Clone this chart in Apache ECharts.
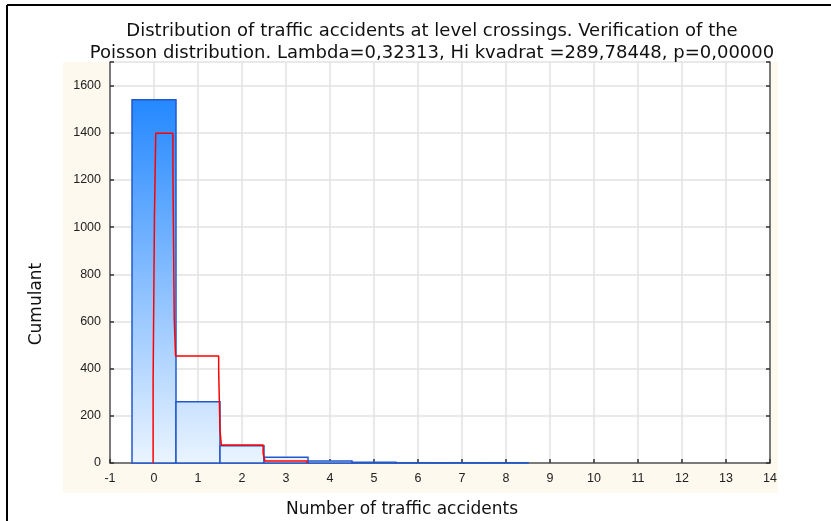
<!DOCTYPE html>
<html>
<head>
<meta charset="utf-8">
<script src="https://cdn.jsdelivr.net/npm/echarts@6/dist/echarts.min.js"></script>
<style>
  html, body { margin: 0; padding: 0; background: #fff; }
  #chart { width: 831px; height: 521px; }
</style>
</head>
<body>
<div id="chart"></div>
<script>
// observed histogram: bin centres and counts
const binCenters = [0, 1, 2, 3, 4, 5, 6, 7, 8];
const binCounts = [1540, 260, 73, 24, 8, 3, 1, 1, 1];
// expected (Poisson) step curve
const expectedX = [-0.02, -0.02, 0.01, 0.01, 0.04, 0.04, 0.43, 0.43, 0.46, 0.46, 0.49, 0.49, 1.47, 1.47, 1.5, 1.5, 1.53, 1.53, 2.48, 2.48, 2.52, 2.52, 3.48, 3.48];
const expectedY = [0, 350, 350, 1045, 1045, 1398, 1398, 1243, 1243, 611, 611, 454, 454, 392, 392, 140, 140, 76, 76, 41, 41, 9, 9, 0];
const xTicks = { min: -1, max: 14, step: 1 };
const yTicks = { min: 0, max: 1700, step: 200 };

const titleLines = [
  'Distribution of traffic accidents at level crossings. Verification of the',
  'Poisson distribution. Lambda=0,32313, Hi kvadrat =289,78448, p=0,00000'
];
const xName = 'Number of traffic accidents';
const yName = 'Cumulant';

const chart = echarts.init(document.getElementById('chart'));
const gothic = "'Century Gothic', 'DejaVu Sans', sans-serif";
const tickFont = "'Liberation Sans', Arial, sans-serif";

// blue fill fading downwards, shared by all bars
const barFill = new echarts.graphic.LinearGradient(0, 100, 0, 463, [
  { offset: 0, color: '#2488FF' },
  { offset: 1, color: '#EAF4FF' }
], true);

const axisCommon = {
  axisLine: { show: true, onZero: false, lineStyle: { color: '#555', width: 1.5 } },
  axisTick: { show: true, inside: true, length: 4, lineStyle: { color: '#333', width: 1.5 } },
  splitLine: { show: true, lineStyle: { color: '#E2E2E2', width: 1.5 } }
};

const option = {
  backgroundColor: '#fff',
  animation: false,
  title: {
    text: titleLines.join('\n'),
    left: 427,
    textAlign: 'center',
    top: 15,
    textStyle: { fontFamily: gothic, fontSize: 18, fontWeight: 'normal', color: '#111', lineHeight: 22 }
  },
  graphic: [
    { type: 'rect', z: -100, shape: { x: 63, y: 62, width: 715, height: 431 }, style: { fill: '#FEF9EE' } },
    { type: 'line', shape: { x1: 7, y1: 5, x2: 831, y2: 5 }, style: { stroke: '#000', lineWidth: 2 } },
    { type: 'line', shape: { x1: 7, y1: 5, x2: 7, y2: 521 }, style: { stroke: '#000', lineWidth: 2 } },
    { type: 'text', x: 37, y: 304, rotation: Math.PI / 2,
      style: { text: yName, font: '17px ' + gothic, fill: '#111', align: 'center', verticalAlign: 'middle' } },
    { type: 'text', x: 402, y: 510,
      style: { text: xName, font: '17px ' + gothic, fill: '#111', align: 'center', verticalAlign: 'middle' } }
  ],
  grid: { left: 110, right: 61, top: 62, bottom: 58, show: true, backgroundColor: '#fff', borderWidth: 0 },
  xAxis: Object.assign({
    type: 'value', min: xTicks.min, max: xTicks.max, interval: xTicks.step,
    axisLabel: { color: '#222', fontFamily: tickFont, fontSize: 12.5, margin: 9 }
  }, axisCommon),
  yAxis: [
    Object.assign({
      type: 'value', min: yTicks.min, max: yTicks.max, interval: yTicks.step,
      axisLabel: { color: '#222', fontFamily: tickFont, fontSize: 12.5, margin: 9,
        formatter: v => (v % yTicks.step === 0 ? String(v) : '') }
    }, axisCommon),
    Object.assign({}, axisCommon, {
      type: 'value', position: 'right', min: yTicks.min, max: yTicks.max, interval: yTicks.step,
      axisLabel: { show: false }, splitLine: { show: false }
    })
  ],
  series: [
    {
      type: 'custom',
      data: binCenters.map((c, i) => [c, binCounts[i]]),
      renderItem(params, api) {
        const c = api.value(0), v = api.value(1);
        const p0 = api.coord([c - 0.5, v]);
        const p1 = api.coord([c + 0.5, 0]);
        return {
          type: 'rect',
          shape: { x: p0[0], y: p0[1], width: p1[0] - p0[0], height: p1[1] - p0[1] },
          style: { fill: barFill, stroke: '#2358CC', lineWidth: 1.5 }
        };
      },
      z: 2
    },
    {
      type: 'line',
      data: expectedX.map((x, i) => [x, expectedY[i]]),
      showSymbol: false,
      symbol: 'none',
      lineStyle: { color: '#FF0000', width: 1.5 },
      z: 3
    }
  ]
};
chart.setOption(option);
</script>
</body>
</html>
